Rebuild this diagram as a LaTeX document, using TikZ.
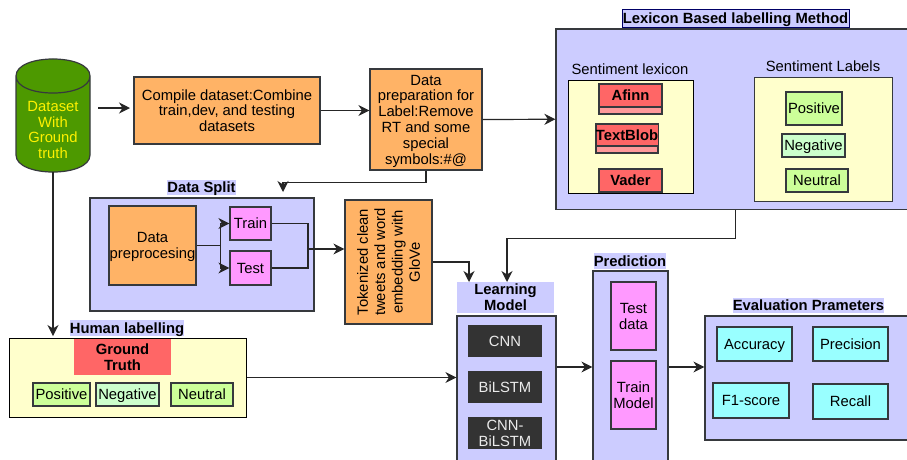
\documentclass[tikz,border=0pt]{standalone}
\usepackage{fontspec}
\setmainfont{Liberation Sans}
\usetikzlibrary{arrows.meta}
\definecolor{orangefill}{HTML}{FFB366}
\definecolor{panelfill}{HTML}{CCCCFF}
\definecolor{yellowfill}{HTML}{FFFFCC}
\definecolor{pinkfill}{HTML}{FF99FF}
\definecolor{cyanfill}{HTML}{99FFFF}
\definecolor{redfill}{HTML}{FF6666}
\definecolor{bandfill}{HTML}{FF9999}
\definecolor{limefill}{HTML}{CCFF99}
\definecolor{mintfill}{HTML}{CCFFCC}
\definecolor{darkfill}{HTML}{333333}
\definecolor{dbfill}{HTML}{4D9900}
\definecolor{edgegray}{HTML}{36393D}
\tikzset{
  every node/.style={font=\fontsize{14.8}{15.8}\selectfont,align=center,inner sep=0pt,text depth=0pt},
  box/.style={draw=edgegray,line width=1.2pt},
  orangebox/.style={box,fill=orangefill},
  panelbox/.style={box,fill=panelfill},
  yellowbox/.style={draw=black,line width=1pt,fill=yellowfill},
  pinkbox/.style={box,fill=pinkfill},
  cyanbox/.style={box,fill=cyanfill},
  redbox/.style={box,fill=redfill,font=\fontsize{14.8}{15.8}\selectfont\bfseries},
  limebox/.style={box,fill=limefill},
  mintbox/.style={box,fill=mintfill},
  modelbox/.style={fill=darkfill,text=white!92!black},
  titlebox/.style={fill=panelfill,font=\fontsize{14.8}{15.8}\selectfont\bfseries},
  flow/.style={-{Stealth[length=11pt,width=11pt,inset=3.5pt]},draw=black!85,line width=1.2pt},
  wire/.style={draw=black!85,line width=1.2pt}
}
\begin{document}
\begin{tikzpicture}[x=1pt,y=-1pt]
\useasboundingbox (0,0) rectangle (907,459);

% dataset and first steps
\draw[box,fill=dbfill] (16,76) -- (16,155) .. controls (16,177.7) and (90,177.7) .. (90,155)
  -- (90,76) .. controls (90,53.3) and (16,53.3) .. (16,76) .. controls (16,98.7) and (90,98.7) .. (90,76);
\node[text=yellow,minimum width=74pt,minimum height=84pt] (db) at (53,130) {Dataset\\With\\Ground\\truth};
\node[orangebox,minimum width=186pt,minimum height=67pt] (compile) at (227,110.5)
  {Compile dataset:Combine\\train,dev, and testing\\datasets};
\node[orangebox,minimum width=112pt,minimum height=101pt] (prep) at (426,119.5)
  {Data\\preparation for\\Label:Remove\\RT and some\\special\\symbols:\#@};

% lexicon
\node[panelbox,minimum width=359pt,minimum height=180.5pt] (lexicon) at (735.5,119.25) {};
\node[titlebox,draw=blue!40!black,line width=1pt,minimum width=227pt,minimum height=18pt] (lexicon-title) at (735.5,18) {Lexicon Based labelling Method};
\node (lex-label) at (630,69) {Sentiment lexicon};
\node[yellowbox,minimum width=125pt,minimum height=113pt] (lex-box) at (630.5,136.5) {};
\node[box,fill=bandfill,minimum width=63pt,minimum height=30pt] (afinn-band) at (630.5,99) {};
\node[redbox,minimum width=63pt,minimum height=23pt] (afinn) at (630.5,95.5) {Afinn};
\node[box,fill=bandfill,minimum width=62pt,minimum height=29pt] (blob-band) at (627,138.5) {};
\node[redbox,minimum width=62pt,minimum height=22pt] (blob) at (627,135) {TextBlob};
\node[redbox,minimum width=63pt,minimum height=23pt] (vader) at (630.5,180.5) {Vader};
\node (senti-label) at (823,66) {Sentiment Labels};
\node[yellowbox,draw=edgegray,minimum width=138pt,minimum height=124pt] (senti-box) at (823,139) {};
\node[limebox,minimum width=56pt,minimum height=33pt] (lex-pos) at (814,108.5) {Positive};
\node[mintbox,minimum width=63pt,minimum height=23pt] (lex-neg) at (813.5,145.5) {Negative};
\node[limebox,minimum width=62pt,minimum height=23pt] (lex-neu) at (817,180.5) {Neutral};

% data split
\node[panelbox,minimum width=224pt,minimum height=113pt] (split) at (202,254.5) {};
\node[titlebox,minimum width=69pt,minimum height=15pt] (split-title) at (201.5,187.5) {Data Split};
\node[orangebox,minimum width=87pt,minimum height=79pt] (preproc) at (152.5,245.5) {Data\\preprocesing};
\node[pinkbox,minimum width=41pt,minimum height=33pt] (train) at (250.5,223.5) {Train};
\node[pinkbox,minimum width=41pt,minimum height=34pt] (test) at (250.5,268) {Test};
\node[orangebox,rotate=90,minimum width=124pt,minimum height=87pt,font=\fontsize{14.8}{17.4}\selectfont] (tokens) at (388.5,262)
  {Tokenized clean\\tweets and word\\embedding with\\GloVe};

% human labelling
\node[yellowbox,minimum width=236.5pt,minimum height=79pt] (human) at (127.75,377.5) {};
\node[titlebox,minimum width=114pt,minimum height=16pt] (human-title) at (127,328) {Human labelling};
\node[redbox,draw=none,minimum width=97pt,minimum height=36pt] (truth) at (122.5,357) {Ground\\Truth};
\node[limebox,minimum width=57pt,minimum height=23pt] (human-pos) at (61.5,394.5) {Positive};
\node[mintbox,minimum width=63pt,minimum height=23pt] (human-neg) at (127.5,394.5) {Negative};
\node[limebox,minimum width=62pt,minimum height=23pt] (human-neu) at (202,394.5) {Neutral};

% learning model
\node[panelbox,minimum width=99pt,minimum height=154pt] (model) at (506.5,393) {};
\node[titlebox,minimum width=97pt,minimum height=31pt] (model-title) at (505.5,297.5) {Learning\\Model};
\node[modelbox,minimum width=74pt,minimum height=32pt] (cnn) at (505,341) {CNN};
\node[modelbox,minimum width=74pt,minimum height=32pt] (bilstm) at (505,387) {BiLSTM};
\node[modelbox,minimum width=74pt,minimum height=32pt] (cnnbilstm) at (505,433) {CNN-\\BiLSTM};

% prediction
\node[panelbox,minimum width=75pt,minimum height=199pt] (pred) at (630.5,370.5) {};
\node[titlebox,minimum width=72pt,minimum height=16pt] (pred-title) at (630,261) {Prediction};
\node[pinkbox,minimum width=45pt,minimum height=68pt] (testdata) at (633.5,316) {Test\\data};
\node[pinkbox,minimum width=45pt,minimum height=68pt] (trainmodel) at (633.5,395) {Train\\Model};

% evaluation
\node[panelbox,minimum width=210pt,minimum height=124pt] (eval) at (810,378) {};
\node[titlebox,minimum width=151pt,minimum height=15pt] (eval-title) at (808.5,305.5) {Evaluation Prameters};
\node[cyanbox,minimum width=75pt,minimum height=34pt] (accuracy) at (754.5,344) {Accuracy};
\node[cyanbox,minimum width=75pt,minimum height=34pt] (precision) at (850.5,344) {Precision};
\node[cyanbox,minimum width=76pt,minimum height=35pt] (f1) at (751,400.5) {F1-score};
\node[cyanbox,minimum width=75pt,minimum height=35pt] (recall) at (850.5,401.5) {Recall};

% free ends and joints
\coordinate (db-out) at (98,108);
\coordinate (compile-in) at (130,108);
\coordinate (split-in) at (283,192);
\coordinate (human-in) at (53,336);
\coordinate (model-in) at (507,282);
\coordinate (model-in2) at (469,282);
\coordinate (fork) at (220.7,245.5);
\coordinate (merge) at (308,249);
\coordinate (pred-row) at (580,367);

\draw[flow] (db-out) -- (compile-in);
\draw[flow] (compile.east) -- (compile.east -| prep.west);
\draw[flow] (prep.east) -- (lexicon.west);
\draw[flow] (prep.south) -- ++(0,12) -| (split-in);
\draw[flow] (db.south) -- (human-in);
\draw[flow] (lexicon.south) -- ++(0,28) -| (model-in);
\draw[flow] (tokens.south) -| (model-in2);
\draw[wire] (preproc.east) -- (fork);
\draw[flow] (fork) |- (train.west);
\draw[flow] (fork) |- (test.west);
\draw[wire] (train.east) -| (merge);
\draw[wire] (test.east) -| (merge);
\draw[flow] (merge) -- (merge -| tokens.north);
\draw[flow] (human.east) -- (human.east -| model.west);
\draw[flow] (pred-row -| model.east) -- (pred-row -| pred.west);
\draw[flow] (pred-row -| pred.east) -- (pred-row -| eval.west);
\end{tikzpicture}
\end{document}
